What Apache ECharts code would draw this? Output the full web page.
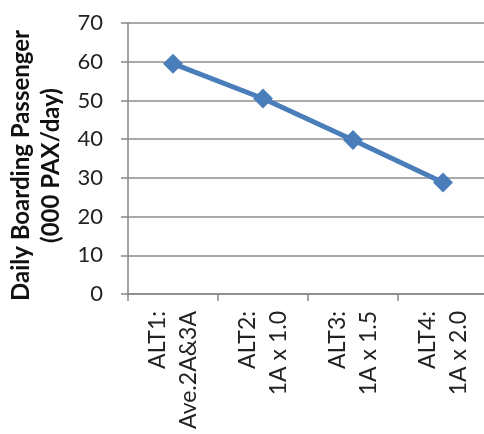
<!DOCTYPE html>
<html><head><meta charset="utf-8">
<script src="https://cdn.jsdelivr.net/npm/echarts@6/dist/echarts.min.js"></script>
<style>html,body{margin:0;padding:0;background:#fff}#c{width:484px;height:434px}</style>
</head><body><div id="c"></div>
<script>
const categories = ["ALT1:\nAve.2A&3A", "ALT2:\n1A x 1.0", "ALT3:\n1A x 1.5", "ALT4:\n1A x 2.0"];
const values = [59.5, 50.5, 39.8, 28.8];
const yTitle = "Daily Boarding Passenger\n(000 PAX/day)";
const FONT = "Lato";
const chart = echarts.init(document.getElementById('c'));
chart.setOption({
  animation: false,
  grid: { left: 128, top: 23, width: 360, height: 271, containLabel: false, outerBoundsMode: 'none' },
  xAxis: {
    type: 'category', data: categories, boundaryGap: true,
    axisLine: { lineStyle: { color: '#868686', width: 1.5 } },
    axisTick: { show: true, length: 7, lineStyle: { color: '#868686', width: 1.5 } },
    axisLabel: { rotate: 90, margin: 17, color: '#222', fontFamily: FONT, fontSize: 23, lineHeight: 31, interval: 0 }
  },
  yAxis: {
    type: 'value', min: 0, max: 70, interval: 10,
    name: yTitle, nameLocation: 'middle', nameGap: 57, nameRotate: 90,
    nameTextStyle: { fontFamily: FONT, fontSize: 24, fontWeight: 'bold', color: '#111', lineHeight: 30, padding: [0, 14, 0, 0] },
    axisLine: { show: true, lineStyle: { color: '#868686', width: 1.5 } },
    axisTick: { show: true, length: 7, lineStyle: { color: '#868686', width: 1.5 } },
    splitLine: { lineStyle: { color: '#8c8c8c', width: 1.5 } },
    axisLabel: { margin: 25, color: '#222', fontFamily: FONT, fontSize: 22 }
  },
  series: [{
    type: 'line', data: values,
    lineStyle: { color: '#4a7ebb', width: 5 },
    itemStyle: { color: '#4a7ebb' },
    symbol: 'diamond', symbolSize: 20, showSymbol: true
  }]
});
</script></body></html>
